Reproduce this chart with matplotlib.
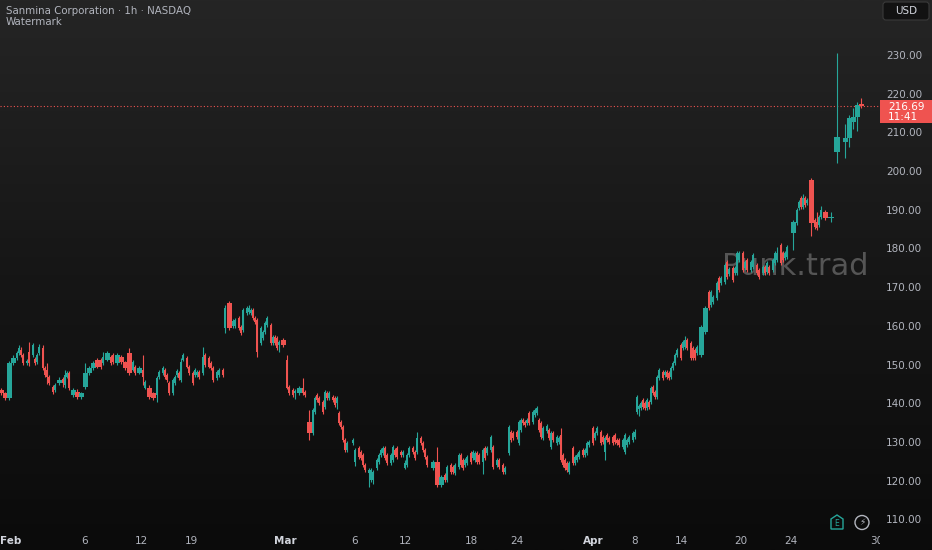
import numpy as np
import matplotlib.pyplot as plt
from matplotlib.colors import LinearSegmentedColormap
from matplotlib.patches import FancyBboxPatch, Rectangle, Polygon, Circle
from matplotlib.transforms import Bbox, TransformedBbox, IdentityTransform

# ---------------------------------------------------------------
# Sanmina Corporation, 1h candles
# ---------------------------------------------------------------
# hourly bar number on the time axis
bar_slot = [
    0, 2, 4, 6, 8, 9, 10, 11, 13, 14, 16, 17, 18, 19, 21, 22, 23, 24, 26, 27,
    29, 31, 32, 33, 34, 36, 38, 40, 42, 44, 46, 48, 50, 51, 53, 55, 56, 58, 60, 62,
    64, 66, 67, 69, 71, 72, 74, 76, 78, 79, 81, 82, 83, 84, 86, 87, 88, 89, 90, 91,
    93, 94, 96, 97, 98, 99, 101, 102, 104, 105, 106, 108, 109, 111,
    112, 114, 116, 117, 119, 120, 121, 123, 124, 125, 126, 127, 128, 130, 131, 132,
    133, 135, 136, 137, 138, 139, 141, 143, 144, 146, 147, 149, 151, 152,
    154, 156, 157, 158, 159, 161, 162, 163, 164, 166, 167, 168, 169, 170, 171, 172,
    173, 176, 177, 179, 180, 181, 182, 184, 185, 186, 188, 189, 190, 191, 192, 193,
    195, 196, 197, 198, 200, 201, 202, 203, 204, 206, 207, 208, 210, 211, 212, 213,
    216, 218, 220, 222, 223,
    225, 226, 227, 229, 230, 231, 232, 233, 235, 236, 237, 238, 239, 241, 242, 243,
    245, 246, 248, 249, 251, 252, 254, 255, 256, 258, 259, 260, 261, 262, 263, 264,
    266, 267, 268, 269, 270, 271, 273, 274, 275, 276, 278, 279, 280, 281, 282, 283,
    284, 286, 287, 288, 289, 291, 292, 293, 294, 296, 297, 298,
    300, 301, 302, 303, 304, 306, 307, 308, 309, 311, 312, 313, 314, 316, 317, 318,
    319, 320, 321, 322, 323, 324, 325, 326, 327, 328, 329, 331, 332, 333, 334, 335,
    336, 337, 338, 340, 341, 342, 343, 345, 346, 347, 348, 350, 352, 354, 355, 356,
    358, 359, 360, 362, 363, 364, 366, 367, 368, 369,
    371, 372, 373, 375, 376, 378, 379, 381, 382, 383, 384, 386, 387, 388, 390, 391,
    392, 393, 396, 398, 399, 400, 401, 402, 403, 405, 407, 408, 409, 410, 412, 415,
    418, 422, 424, 426, 428, 430,
]

opens = [
    143.4, 142.6, 141.3, 150.4, 151.7, 153.0, 153.8, 152.5, 150.4, 153.3, 152.5, 151.5, 150.6, 153.0, 154.3, 149.1, 148.6, 146.8, 144.2, 143.4,
    145.2, 146.2, 144.7, 146.8, 147.8, 142.1, 143.0, 141.6, 144.2, 147.8, 149.1, 151.2, 151.2, 150.4, 151.2, 152.0, 152.5, 150.4, 152.0, 150.6,
    153.0, 148.6, 149.4, 147.8, 148.6, 144.0, 144.0, 142.6, 142.1, 146.8, 147.8, 148.6, 147.3, 145.2, 142.6, 145.2, 147.3, 147.8, 146.0, 151.2,
    151.7, 149.4, 147.8, 147.3, 147.3, 148.1, 147.8, 152.5, 151.7, 150.4, 149.1, 146.5, 147.3, 148.6,
    159.4, 165.9, 159.9, 159.9, 162.0, 159.7, 158.9, 163.3, 163.6, 163.3, 164.1, 162.0, 161.5, 155.6, 156.9, 158.4,
    160.2, 160.2, 155.6, 157.1, 156.9, 155.1, 156.4, 151.2, 144.2, 143.4, 142.6, 142.6, 143.9, 142.9,
    135.2, 132.3, 137.8, 142.1, 141.3, 140.3, 139.0, 142.6, 141.3, 141.6, 141.3, 140.0, 137.5, 135.2, 133.9, 130.5,
    127.9, 129.7, 124.8, 128.4, 127.4, 126.6, 124.0, 122.0, 120.2, 120.2, 123.3, 124.8, 126.6, 127.1, 128.4, 126.6,
    124.5, 125.3, 127.9, 128.4, 127.4, 126.6, 123.3, 124.0, 126.6, 128.4, 127.4, 127.4, 131.0, 129.7, 127.9, 126.1,
    123.3, 124.8, 118.9, 121.5, 120.2,
    124.0, 123.5, 122.0, 123.5, 126.6, 125.3, 124.0, 124.5, 127.1, 125.8, 125.3, 127.1, 126.6, 124.8, 128.4, 127.1,
    127.9, 128.7, 124.0, 125.3, 124.0, 122.2, 127.1, 132.5, 132.3, 132.5, 129.7, 133.1, 135.7, 135.2, 134.9, 137.5,
    135.2, 137.0, 137.5, 135.7, 134.9, 131.0, 132.8, 133.1, 128.7, 132.3, 129.7, 130.0, 131.8, 126.6, 125.3, 124.5,
    122.2, 128.4, 124.5, 125.3, 126.1, 127.9, 126.6, 127.1, 129.2, 133.6, 131.0, 132.3,
    132.5, 131.3, 127.4, 131.8, 131.0, 131.3, 131.8, 130.5, 130.5, 128.7, 127.4, 129.2, 130.0, 130.5, 131.3, 137.8,
    138.5, 138.8, 140.8, 140.0, 138.8, 140.3, 140.3, 144.2, 142.9, 141.6, 146.5, 148.1, 147.3, 148.1, 147.8, 146.8,
    149.1, 150.4, 152.5, 155.1, 154.3, 154.6, 156.4, 155.6, 154.3, 153.8, 153.0, 152.5, 158.4, 168.7, 165.4, 166.2,
    167.2, 172.3, 171.0, 171.3, 176.5, 173.3, 174.9, 173.6, 173.6, 177.0,
    178.8, 174.9, 177.0, 174.4, 175.2, 175.7, 174.4, 173.6, 175.2, 173.9, 175.2, 174.4, 176.2, 177.0, 180.9, 178.8,
    177.5, 177.8, 184.0, 186.6, 190.4, 193.0, 190.7, 193.0, 191.7, 197.7, 187.3, 186.8, 186.0, 188.1, 189.4, 187.9,
    204.9, 207.5, 208.5, 212.6, 214.0, 217.3,
]

highs = [
    144.0, 143.0, 151.0, 152.5, 153.5, 155.0, 154.5, 153.0, 151.5, 155.8, 155.5, 152.0, 153.0, 155.3, 155.0, 149.5, 150.4, 147.3, 144.7, 145.2,
    146.8, 146.8, 148.6, 148.3, 148.3, 143.9, 143.6, 143.0, 150.4, 149.6, 151.0, 151.7, 151.7, 153.3, 153.5, 152.5, 153.0, 153.0, 152.5, 151.0,
    154.3, 151.2, 150.0, 149.6, 152.5, 146.0, 144.7, 143.0, 147.0, 148.6, 149.6, 149.1, 147.8, 145.7, 146.5, 147.3, 148.8, 148.3, 151.7, 153.0,
    152.2, 149.9, 148.3, 149.1, 148.6, 148.6, 154.5, 153.0, 152.2, 150.9, 149.6, 148.6, 149.1, 149.1,
    165.5, 166.4, 161.7, 162.0, 162.5, 160.2, 164.6, 165.1, 165.4, 164.6, 164.6, 162.5, 162.0, 160.0, 158.9, 161.2,
    162.5, 160.7, 157.6, 157.6, 157.4, 156.4, 156.9, 152.5, 144.7, 143.9, 143.6, 144.4, 146.5, 143.4,
    138.3, 138.8, 141.8, 142.6, 141.8, 140.8, 143.4, 143.1, 143.1, 142.1, 141.8, 141.8, 138.0, 135.7, 134.4, 131.0,
    130.2, 131.0, 128.4, 128.9, 127.9, 127.1, 124.5, 123.3, 123.3, 122.8, 125.8, 127.1, 128.4, 128.9, 128.9, 127.1,
    127.1, 129.2, 128.4, 128.9, 127.9, 127.9, 125.3, 127.1, 128.9, 128.9, 127.9, 132.5, 131.5, 130.2, 128.4, 126.6,
    125.3, 128.7, 121.4, 122.0, 124.0,
    124.5, 124.0, 124.5, 127.1, 127.1, 125.8, 125.8, 126.6, 127.6, 127.9, 127.6, 127.6, 127.1, 128.4, 128.9, 128.9,
    131.8, 129.2, 125.8, 125.8, 124.5, 123.8, 134.4, 133.0, 132.8, 133.0, 135.7, 136.2, 136.2, 135.7, 136.2, 138.0,
    138.3, 138.8, 139.3, 136.2, 135.4, 134.1, 134.6, 133.6, 132.8, 132.8, 131.8, 131.5, 133.6, 127.1, 125.8, 125.0,
    125.0, 128.9, 126.6, 127.1, 127.9, 128.4, 128.4, 130.2, 130.5, 134.1, 132.8, 134.1,
    133.0, 131.8, 131.5, 132.3, 131.5, 131.8, 132.3, 131.0, 131.0, 131.0, 132.3, 131.0, 131.8, 132.8, 133.3, 142.1,
    139.8, 140.5, 141.3, 140.5, 141.3, 140.8, 144.5, 144.7, 143.4, 147.3, 149.1, 148.6, 148.6, 148.6, 148.3, 149.6,
    150.9, 153.0, 154.3, 155.6, 156.4, 157.4, 156.9, 156.1, 154.8, 154.3, 155.1, 160.2, 165.1, 169.2, 169.2, 167.9,
    171.5, 172.8, 172.8, 176.2, 177.0, 175.1, 175.4, 175.4, 179.3, 179.3,
    179.3, 177.0, 177.5, 177.0, 178.8, 176.2, 174.9, 175.7, 175.7, 176.7, 175.7, 177.5, 179.3, 180.4, 181.4, 179.3,
    179.3, 180.9, 187.3, 190.5, 192.5, 193.5, 194.1, 193.5, 193.0, 198.2, 187.8, 189.4, 188.6, 190.9, 189.9, 189.4,
    230.5, 212.1, 214.5, 216.3, 217.8, 218.9,
]

lows = [
    142.2, 140.8, 140.8, 149.8, 151.2, 152.5, 152.0, 150.0, 150.0, 149.5, 152.0, 150.0, 150.2, 152.5, 148.5, 146.8, 145.0, 144.7, 142.3, 143.0,
    144.7, 144.2, 143.9, 146.5, 143.5, 141.6, 141.0, 141.2, 143.6, 147.3, 148.6, 149.0, 148.8, 150.0, 150.8, 150.0, 150.2, 150.0, 150.2, 148.6,
    147.3, 148.3, 147.3, 147.5, 144.7, 143.6, 141.0, 140.8, 140.3, 146.3, 147.3, 146.3, 145.5, 142.1, 142.1, 144.7, 146.8, 146.0, 145.5, 150.8,
    149.0, 147.3, 144.7, 146.8, 146.8, 146.3, 147.3, 149.4, 149.0, 148.6, 145.5, 146.0, 146.8, 146.8,
    158.1, 158.9, 159.4, 159.4, 158.9, 157.6, 158.4, 162.8, 163.1, 162.8, 161.5, 160.5, 152.0, 155.1, 156.4, 157.9,
    159.7, 155.1, 155.1, 155.1, 153.8, 153.3, 154.6, 143.6, 142.1, 141.6, 141.0, 142.1, 142.1, 141.6,
    130.5, 131.8, 137.3, 140.3, 139.5, 137.3, 138.5, 140.8, 140.8, 140.3, 139.0, 138.5, 134.4, 133.4, 130.0, 127.4,
    127.4, 129.2, 123.8, 125.6, 125.3, 123.5, 122.3, 118.4, 119.7, 119.2, 122.8, 124.3, 126.1, 126.6, 125.3, 124.0,
    124.0, 124.8, 126.1, 125.6, 126.1, 126.1, 123.0, 123.5, 126.1, 126.9, 125.3, 126.9, 129.2, 127.4, 125.6, 123.5,
    122.8, 118.4, 118.4, 119.7, 119.7,
    121.7, 121.7, 121.5, 123.0, 123.5, 122.8, 123.5, 124.0, 124.3, 125.3, 124.8, 124.3, 124.3, 121.7, 125.3, 126.6,
    127.4, 123.0, 123.5, 123.0, 121.7, 121.7, 126.6, 130.0, 130.5, 130.8, 129.2, 132.6, 134.4, 133.9, 134.4, 134.4,
    134.7, 136.5, 137.0, 132.6, 130.8, 130.5, 132.3, 130.5, 128.2, 130.0, 129.2, 129.5, 124.8, 123.5, 122.8, 122.3,
    121.7, 124.0, 124.0, 124.8, 125.6, 126.1, 126.1, 126.6, 128.7, 129.2, 130.5, 131.8,
    129.2, 129.5, 125.3, 130.0, 129.5, 129.2, 129.5, 129.2, 128.7, 128.2, 126.9, 128.7, 129.5, 130.0, 130.8, 137.3,
    136.7, 138.3, 138.5, 138.3, 138.3, 138.5, 139.8, 142.1, 141.1, 141.1, 146.0, 146.0, 146.8, 146.3, 146.0, 146.3,
    148.6, 149.9, 152.0, 151.2, 153.8, 154.1, 153.8, 151.2, 151.2, 151.2, 152.5, 152.0, 157.9, 164.1, 164.9, 165.7,
    166.7, 168.8, 170.5, 170.8, 172.1, 172.8, 171.3, 173.1, 173.1, 176.5,
    173.9, 174.4, 173.9, 173.9, 174.7, 173.1, 172.1, 173.1, 173.1, 173.4, 173.1, 173.9, 175.7, 176.5, 175.7, 176.5,
    177.0, 177.3, 179.6, 186.1, 189.9, 190.2, 190.2, 190.7, 191.2, 183.1, 185.0, 184.7, 185.5, 187.6, 187.3, 186.8,
    202.0, 203.4, 206.3, 210.8, 210.3, 216.4,
]

closes = [
    142.6, 141.3, 150.4, 151.7, 153.0, 154.3, 152.5, 150.4, 151.0, 150.4, 155.0, 150.4, 152.5, 154.6, 149.1, 147.3, 146.8, 145.2, 142.9, 144.7,
    146.0, 145.2, 147.3, 147.8, 144.0, 143.4, 141.6, 142.6, 147.8, 149.1, 150.4, 149.4, 149.4, 152.0, 153.0, 150.4, 150.6, 152.5, 150.6, 149.1,
    147.8, 150.6, 147.8, 149.1, 146.8, 145.5, 141.6, 141.3, 146.5, 148.1, 149.1, 146.8, 146.0, 142.6, 146.0, 146.8, 148.3, 146.5, 150.6, 152.5,
    149.4, 147.8, 145.2, 148.6, 148.1, 146.8, 151.9, 149.9, 149.4, 149.1, 146.0, 148.1, 148.6, 147.3,
    164.6, 159.4, 161.2, 161.5, 159.4, 158.1, 164.1, 164.6, 164.6, 164.1, 162.0, 161.0, 153.3, 159.4, 158.4, 160.7,
    162.0, 155.6, 157.1, 155.6, 154.3, 155.9, 155.1, 144.0, 142.6, 142.1, 143.1, 143.9, 142.6, 142.1,
    132.3, 138.3, 141.3, 140.8, 140.0, 137.8, 142.9, 141.3, 142.6, 140.8, 139.5, 141.3, 134.9, 133.9, 130.5, 127.9,
    129.7, 130.5, 127.9, 126.1, 125.8, 124.0, 122.8, 122.8, 122.8, 122.2, 125.3, 126.6, 127.9, 128.4, 125.8, 124.5,
    126.6, 128.7, 126.6, 126.1, 126.6, 127.4, 124.5, 126.6, 128.4, 127.4, 125.8, 131.0, 129.7, 127.9, 126.1, 124.0,
    124.8, 118.9, 120.9, 120.2, 123.5,
    122.2, 122.2, 124.0, 126.6, 124.0, 123.3, 125.3, 126.1, 124.8, 127.4, 127.1, 124.8, 124.8, 127.9, 125.8, 128.4,
    131.3, 123.5, 125.3, 123.5, 122.2, 123.3, 133.9, 130.5, 131.0, 131.3, 135.2, 135.7, 134.9, 134.4, 135.7, 134.9,
    137.8, 138.3, 138.8, 133.1, 131.3, 133.6, 134.1, 131.0, 132.3, 130.5, 131.3, 131.0, 125.3, 124.0, 123.3, 122.8,
    124.5, 124.5, 126.1, 126.6, 127.4, 126.6, 127.9, 129.7, 130.0, 129.7, 132.3, 133.6,
    129.7, 130.0, 131.0, 130.5, 130.0, 129.7, 130.0, 129.7, 129.2, 130.5, 131.8, 130.5, 131.3, 132.3, 132.5, 141.6,
    139.3, 140.0, 139.0, 138.8, 140.8, 139.0, 144.0, 142.6, 141.6, 146.8, 148.6, 146.5, 148.1, 146.8, 146.5, 149.1,
    150.4, 152.5, 153.8, 151.7, 155.9, 156.4, 154.3, 151.7, 151.7, 151.7, 154.6, 159.7, 164.6, 164.6, 168.7, 167.4,
    171.0, 169.3, 172.3, 175.7, 172.6, 174.6, 171.8, 174.9, 178.8, 178.8,
    174.4, 176.5, 174.4, 176.5, 178.3, 173.6, 172.6, 175.2, 173.6, 176.2, 173.6, 177.0, 178.8, 178.8, 176.2, 177.0,
    178.8, 180.4, 186.8, 190.0, 192.0, 190.7, 193.0, 191.2, 192.5, 186.6, 185.5, 185.2, 188.1, 189.9, 187.8, 188.1,
    208.8, 208.5, 213.7, 214.0, 217.0, 216.69,
]

last_price = 216.69
countdown = "11:41"

tick_slots = [5, 42, 70, 95, 142, 177, 202, 235, 258, 296, 317, 340, 370, 395, 438]
tick_labels = ["Feb", "6", "12", "19", "Mar", "6", "12", "18", "24",
               "Apr", "8", "14", "20", "24", "30"]
month_labels = ["Feb", "Mar", "Apr"]

price_ticks = np.arange(110, 231, 10)

# ---------------------------------------------------------------
UP = "#26a69a"
DOWN = "#ef5350"
TXT = "#b2b5be"

W, H = 932, 550
fig = plt.figure(figsize=(W / 100, H / 100), dpi=100)

# ------------> background gradient
bg = fig.add_axes([0, 0, 1, 1], zorder=-10)
grad = np.linspace(0, 1, 256).reshape(-1, 1)
bg_cmap = LinearSegmentedColormap.from_list("bg", ["#0b0b0b", "#161616", "#252525"])
bg.imshow(grad, aspect="auto", cmap=bg_cmap, origin="lower", extent=[0, 1, 0, 1])
bg.axis("off")

# ------------> price pane
ax = fig.add_axes([0, 20 / H, 880 / W, 530 / H])
ax.set_facecolor("none")
for s in ax.spines.values():
    s.set_visible(False)

x = np.array(bar_slot, dtype=float)
o = np.array(opens)
hi = np.array(highs)
lo = np.array(lows)
c = np.array(closes)
colors = np.where(c >= o, UP, DOWN)

gaps = np.diff(x)
gap_min = np.minimum(np.r_[gaps[0], gaps], np.r_[gaps, gaps[-1]])
widths = np.clip(1.25 * gap_min, 1.3, 3.0)

ax.vlines(x, lo, hi, colors=colors, linewidth=0.8, zorder=2)
ax.bar(x, np.maximum(np.abs(c - o), 0.18), bottom=np.minimum(o, c),
       width=widths, color=colors, linewidth=0, zorder=3)

ax.axhline(last_price, color=DOWN, linestyle=(0, (1, 2)), linewidth=0.8, zorder=1)

ax.text(722, H - 275, "Punk.trad", transform=IdentityTransform(),
        fontsize=22, color="#555555", ha="left", va="baseline", zorder=1)

ax.set_xlim(-0.5, 439.5)
ax.set_ylim(107.24, 244.19)

ax.set_yticks(price_ticks, [f"{p:.2f}" for p in price_ticks])
ax.yaxis.tick_right()
ax.tick_params(axis="y", length=0, pad=4.5, labelsize=7.5, labelcolor=TXT)

ax.set_xticks(tick_slots, tick_labels)
ax.tick_params(axis="x", length=0, pad=4.5, labelsize=7.5, labelcolor=TXT)
clip = TransformedBbox(Bbox([[0, 0], [880 / W, 1]]), fig.transFigure)
for lbl in ax.get_xticklabels():
    lbl.set_clip_box(clip)
    lbl.set_clip_on(True)
    if lbl.get_text() in month_labels:
        lbl.set_fontweight("bold")
        lbl.set_color("#d1d4dc")

# ------------> header texts
fig.text(6 / W, 1 - 11 / H, "Sanmina Corporation · 1h · NASDAQ",
         fontsize=7.4, color=TXT, ha="left", va="center")
fig.text(6 / W, 1 - 22 / H, "Watermark", fontsize=7.4, color=TXT,
         ha="left", va="center")

# ------------> USD box
fig.add_artist(FancyBboxPatch((883, H - 20), 46, 18, transform=IdentityTransform(),
                              boxstyle="round,pad=0,rounding_size=3",
                              facecolor="#121212", edgecolor="#3a3a3a", linewidth=0.8))
fig.text(906 / W, 1 - 11.5 / H, "USD", fontsize=7.5, color="#d1d4dc",
         ha="center", va="center")

# ------------> last price label
fig.add_artist(Rectangle((880, H - 123), 52, 23, transform=IdentityTransform(),
                         facecolor=DOWN, edgecolor="none"))
fig.text(888 / W, 1 - 107 / H, f"{last_price:.2f}", fontsize=7.5, color="white",
         ha="left", va="center")
fig.text(888 / W, 1 - 117.5 / H, countdown, fontsize=7.5, color="white",
         ha="left", va="center")

# ------------> earnings / dividend icons
fig.add_artist(Polygon([(831, H - 529), (843, H - 529), (843, H - 519),
                        (837, H - 515), (831, H - 519)], closed=True,
                       transform=IdentityTransform(), facecolor="none",
                       edgecolor=UP, linewidth=1))
fig.text(837 / W, 1 - 523.5 / H, "E", fontsize=5.5, color=UP,
         ha="center", va="center")
fig.add_artist(Circle((862, H - 522.5), 7, transform=IdentityTransform(),
                      facecolor="none", edgecolor=TXT, linewidth=1))
fig.text(862 / W, 1 - 522.5 / H, "⚡", fontsize=6.5, color=TXT,
         ha="center", va="center")

fig.savefig("out.png", dpi=100)
plt.close()
